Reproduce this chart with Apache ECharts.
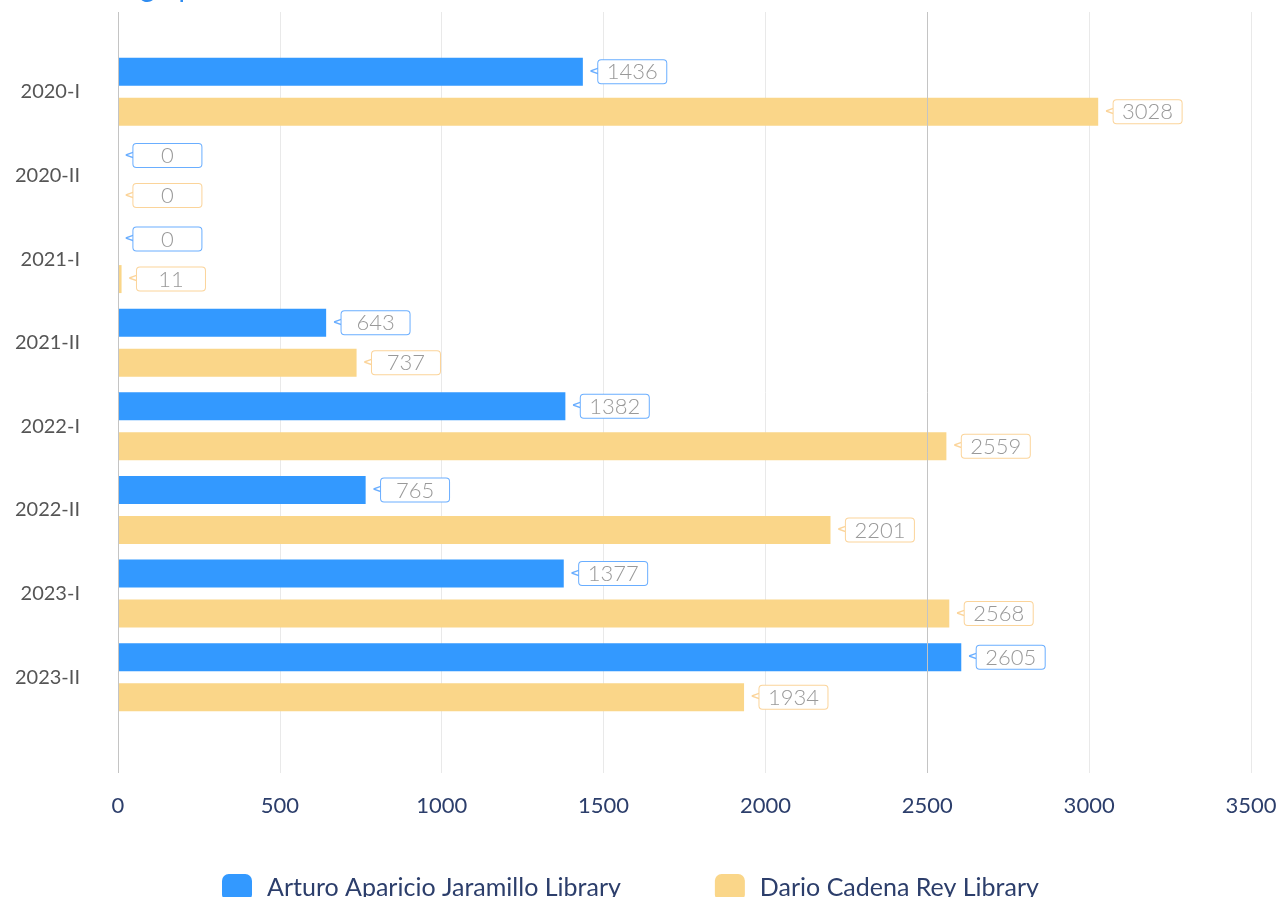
<!DOCTYPE html>
<html>
<head>
<meta charset="utf-8">
<script src="https://cdn.jsdelivr.net/npm/echarts@6/dist/echarts.min.js"></script>
<style>
html,body{margin:0;padding:0;background:#fff;}
#chart{width:1282px;height:897px;}
</style>
</head>
<body>
<div id="chart"></div>
<script>
var categories = ['2020-I', '2020-II', '2021-I', '2021-II', '2022-I', '2022-II', '2023-I', '2023-II'];
var seriesNames = ['Arturo Aparicio Jaramillo Library', 'Dario Cadena Rey Library'];
var arturoValues = [1436, 0, 0, 643, 1382, 765, 1377, 2605];
var darioValues = [3028, 0, 11, 737, 2559, 2201, 2568, 1934];
var xTicks = [0, 500, 1000, 1500, 2000, 2500, 3000, 3500];
var titleText = 'Bar graph';

var FONT = 'Lato, "Open Sans", sans-serif';
var blue = '#3399ff', yellow = '#fad689';
var blueBorder = '#6aaeff', yellowBorder = '#fbd49a';

function makeLabel(border) {
  return {
    show: true,
    position: 'right',
    distance: 6,
    formatter: function (p) { return '{a|<}{b|' + p.value + '}'; },
    rich: {
      a: { color: border, fontSize: 16, fontFamily: '"DejaVu Sans", sans-serif', padding: [0, -4, 0, 0] },
      b: {
        color: '#999', fontSize: 22, fontFamily: FONT, fontWeight: 300,
        borderColor: border, borderWidth: 1, borderRadius: 3,
        backgroundColor: '#fff',
        width: 58, height: 22, align: 'center', padding: [1, 5, 0, 5]
      }
    }
  };
}

var chart = echarts.init(document.getElementById('chart'));
chart.setOption({
  animation: false,
  title: {
    text: titleText, left: 86, top: -31,
    textStyle: { color: '#2f8cf0', fontSize: 28, fontFamily: FONT, fontWeight: 'normal' }
  },
  legend: {
    data: seriesNames,
    left: 217, top: 869,
    itemWidth: 30, itemHeight: 27, itemGap: 94,
    icon: 'roundRect',
    textStyle: { color: '#2c3e6b', fontSize: 25, fontFamily: FONT, padding: [0, 0, 0, 10] }
  },
  grid: [
    { left: 118, right: 31, top: 50, bottom: 178, containLabel: false },
    { left: 118, right: 31, top: 12, bottom: 124, containLabel: false }
  ],
  xAxis: [
    { gridIndex: 0, type: 'value', min: 0, max: 3500, interval: 500, show: false },
    {
      gridIndex: 1, type: 'value', min: 0, max: 3500, interval: 500,
      axisLine: { show: false }, axisTick: { show: false },
      axisLabel: { color: '#2c3e6b', fontSize: 22, fontFamily: FONT, margin: 22,
        formatter: function (v) { return xTicks.indexOf(v) >= 0 ? String(v) : ''; } },
      splitLine: { show: true, lineStyle: { color: '#e9e9e9', width: 1 } }
    }
  ],
  yAxis: [
    {
      gridIndex: 0, type: 'category', data: categories, inverse: true,
      axisLine: { show: false }, axisTick: { show: false },
      axisLabel: { color: '#555', fontSize: 20, fontFamily: FONT, margin: 38 }
    },
    { gridIndex: 1, type: 'value', show: false, min: 0, max: 1 }
  ],
  series: [
    {
      name: seriesNames[0], type: 'bar', xAxisIndex: 0, yAxisIndex: 0,
      data: arturoValues, barWidth: 28, barGap: '43%',
      itemStyle: { color: blue },
      label: makeLabel(blueBorder)
    },
    {
      name: seriesNames[1], type: 'bar', xAxisIndex: 0, yAxisIndex: 0,
      data: darioValues, barWidth: 28, barGap: '43%',
      itemStyle: { color: yellow },
      label: makeLabel(yellowBorder)
    },
    {
      type: 'line', xAxisIndex: 1, yAxisIndex: 1, data: [], silent: true,
      markLine: {
        silent: true, symbol: 'none', label: { show: false },
        lineStyle: { color: '#c4c4c4', type: 'solid', width: 1 },
        data: [{ xAxis: 0 }, { xAxis: 2500 }]
      }
    }
  ]
});
</script>
</body>
</html>
